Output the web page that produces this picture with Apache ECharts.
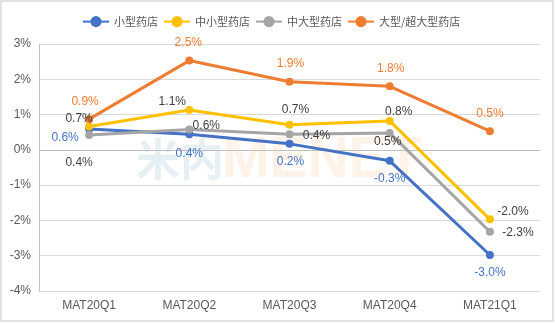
<!DOCTYPE html>
<html><head><meta charset="utf-8">
<script src="https://cdn.jsdelivr.net/npm/echarts@6/dist/echarts.min.js"></script>
<style>html,body{margin:0;padding:0;background:#fff}#c{width:555px;height:324px}</style>
</head><body><div id="c"></div>
<script>
var categories = ['MAT20Q1','MAT20Q2','MAT20Q3','MAT20Q4','MAT21Q1'];
var seriesNames = ['小型药店','中小型药店','中大型药店','大型/超大型药店'];
var small = [0.59, 0.44, 0.17, -0.31, -2.98];
var midSmall = [0.66, 1.13, 0.71, 0.82, -1.97];
var midLarge = [0.42, 0.58, 0.44, 0.48, -2.32];
var large = [0.87, 2.53, 1.93, 1.80, 0.53];
var yTicks = [-4, -3, -2, -1, 0, 1, 2, 3];

var colors = ['#4472C4', '#FFC000', '#A5A5A5', '#ED7D31'];
var labelColors = ['#4472C4', '#404040', '#404040', '#ED7D31'];
// label offsets from point centre
var offsets = [
  [[-24, 9], [0, 19], [1, 18], [0, 18], [0, 18]],
  [[-10, -8], [-17, -8], [6, -15], [9, -9], [23, -8]],
  [[-10, 28], [17, -4], [27, 1], [-2, 9], [28, 1]],
  [[-4, -17], [-1, -18], [1, -18], [1, -18], [0, -17]]
];
var allData = [small, midSmall, midLarge, large];

var series = allData.map(function (arr, si) {
  return {
    name: seriesNames[si],
    type: 'line',
    z: 3,
    symbol: 'circle',
    symbolSize: 8,
    lineStyle: { width: 3, color: colors[si] },
    itemStyle: { color: colors[si] },
    data: arr.map(function (v, i) {
      return {
        value: v,
        label: {
          show: true,
          position: 'inside',
          offset: offsets[si][i],
          formatter: function (p) { return p.value.toFixed(1) + '%'; },
          color: labelColors[si],
          fontSize: 12,
          fontFamily: 'Liberation Sans, Arial, sans-serif'
        }
      };
    })
  };
});

var chart = echarts.init(document.getElementById('c'), null, { renderer: 'canvas' });
chart.setOption({
  animation: false,
  backgroundColor: '#fff',
  color: colors,
  graphic: [
    { type: 'rect', shape: { x: 1, y: 1, width: 552, height: 320 }, style: { fill: 'none', stroke: '#d9d9d9', lineWidth: 1.5 }, z: 0, silent: true },
    { type: 'text', left: 136, top: 137, z: 0, silent: true,
      style: { text: '米内', font: 'bold 44px "Noto Sans CJK SC"', fill: '#e6f0f4' } },
    { type: 'text', left: 222, top: 133, z: 0, silent: true,
      style: { text: 'MENET', font: 'bold 57px "Liberation Sans"', fill: '#fef2e9' } }
  ],
  legend: {
    top: 11,
    left: 77,
    itemWidth: 26,
    itemHeight: 14,
    itemGap: 5,
    textStyle: { color: '#595959', fontSize: 11, fontFamily: 'Noto Sans CJK SC' },
    data: seriesNames
  },
  grid: { left: 39, right: 15, top: 44, bottom: 33, containLabel: false },
  xAxis: {
    type: 'category',
    data: categories,
    boundaryGap: true,
    axisLine: { show: true, lineStyle: { color: '#bfbfbf', width: 1 } },
    axisTick: { show: false },
    axisLabel: { color: '#595959', fontSize: 12, margin: 9, fontFamily: 'Liberation Sans, Arial, sans-serif' },
    splitLine: { show: false }
  },
  yAxis: {
    type: 'value',
    min: yTicks[0],
    max: yTicks[yTicks.length - 1],
    interval: 1,
    axisLine: { show: true, lineStyle: { color: '#bfbfbf', width: 1 } },
    axisTick: { show: false },
    axisLabel: { color: '#595959', fontSize: 12, margin: 8, fontFamily: 'Liberation Sans, Arial, sans-serif',
      formatter: function (v) { return v + '%'; } },
    splitLine: { show: true, lineStyle: { color: '#d9d9d9', width: 1 } }
  },
  series: series
});
</script>
</body></html>
